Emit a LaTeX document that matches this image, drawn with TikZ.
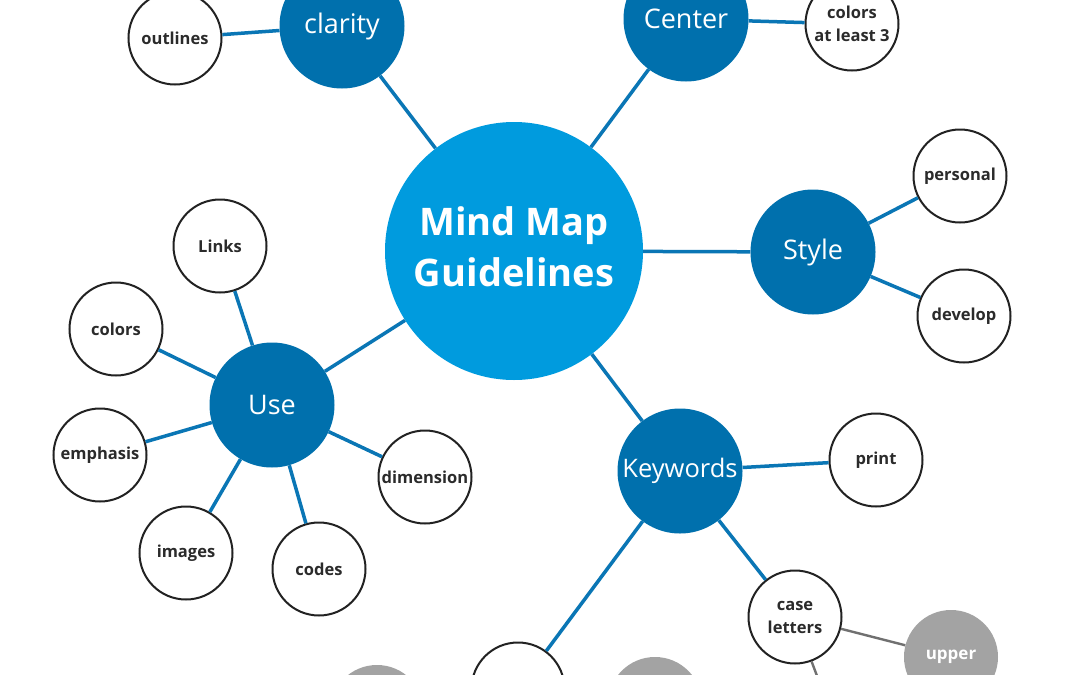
\documentclass[tikz,border=0pt]{standalone}
\usepackage{fontspec}
\setmainfont{Open Sans}
\definecolor{cblue}{HTML}{009BDE}
\definecolor{cdark}{HTML}{0070AD}
\definecolor{cline}{HTML}{0A76B5}
\definecolor{cgrey}{HTML}{A3A3A3}
\definecolor{cgline}{HTML}{707070}
\definecolor{cborder}{HTML}{222222}
\definecolor{ctext}{HTML}{2B2B2B}
\tikzset{
  mainnode/.style={circle, fill=cblue, minimum size=258pt, inner sep=0pt},
  maintext/.style={inner sep=0pt, text=white,
    font=\fontsize{38}{51}\selectfont\bfseries, align=center},
  topic/.style={circle, fill=cdark, minimum size=125pt, inner sep=0pt, text=white,
    font=\fontsize{27}{30}\selectfont},
  leaf/.style={circle, draw=cborder, line width=2pt, fill=white, minimum size=93pt,
    inner sep=0pt, text=ctext, font=\fontsize{16.5}{23}\selectfont\bfseries, align=center},
  gleaf/.style={circle, fill=cgrey, minimum size=94pt, inner sep=0pt, text=white,
    font=\fontsize{17}{23}\selectfont\bfseries},
  link/.style={draw=cline, line width=3.5pt},
  glink/.style={draw=cgline, line width=2.4pt},
}
\begin{document}
\begin{tikzpicture}[x=1pt, y=-1pt]
\useasboundingbox (0,0) rectangle (1080,675);
\fill[white] (0,0) rectangle (1080,675);
\clip (0,0) rectangle (1080,675);

% nodes
\node[mainnode] (main) at (514,251) {};
\node[maintext] (maintitle) at (514,247) {Mind Map\\Guidelines};
\node[topic] (clarity) at (342,26) {clarity};
\node[leaf] (outlines) at (175,38) {outlines};
\node[topic] (center) at (686,19) {Center};
\node[leaf] (colors3) at (852,24) {colors\\at least 3};
\node[topic] (style) at (813,252) {Style};
\node[leaf] (personal) at (960,176) {personal};
\node[leaf] (develop) at (964,316) {develop};
\node[topic, font=\fontsize{25.5}{30}\selectfont] (keywords) at (680,471) {Keywords};
\node[leaf] (print) at (876,460) {print};
\node[leaf] (case) at (795,617) {case\\letters};
\node[gleaf] (upper) at (951,657) {upper};
\node[topic] (use) at (272,405) {Use};
\node[leaf] (links) at (220,246) {Links};
\node[leaf] (colorsU) at (116,329) {colors};
\node[leaf] (emphasis) at (100,455) {emphasis};
\node[leaf] (images) at (186,553) {images};
\node[leaf] (codes) at (319,569) {codes};
\node[leaf] (dimension) at (425,477) {dimension};
\node[leaf] (bottomW) at (518,689) {};
\node[gleaf] (greyA) at (377,712) {};
\node[gleaf] (greyB) at (655,704) {};
\coordinate (lowerEnd) at (826,700);

% connectors
\draw[link] (main) -- (clarity);
\draw[link] (main) -- (center);
\draw[link] (main) -- (style);
\draw[link] (main) -- (keywords);
\draw[link] (main) -- (use);
\draw[link] (clarity) -- (outlines);
\draw[link] (center) -- (colors3);
\draw[link] (style) -- (personal);
\draw[link] (style) -- (develop);
\draw[link] (keywords) -- (print);
\draw[link] (keywords) -- (case);
\draw[link] (keywords) -- (bottomW);
\draw[glink] (case) -- (upper);
\draw[glink] (case) -- (lowerEnd);
\draw[link] (use) -- (links);
\draw[link] (use) -- (colorsU);
\draw[link] (use) -- (emphasis);
\draw[link] (use) -- (images);
\draw[link] (use) -- (codes);
\draw[link] (use) -- (dimension);
\end{tikzpicture}
\end{document}
